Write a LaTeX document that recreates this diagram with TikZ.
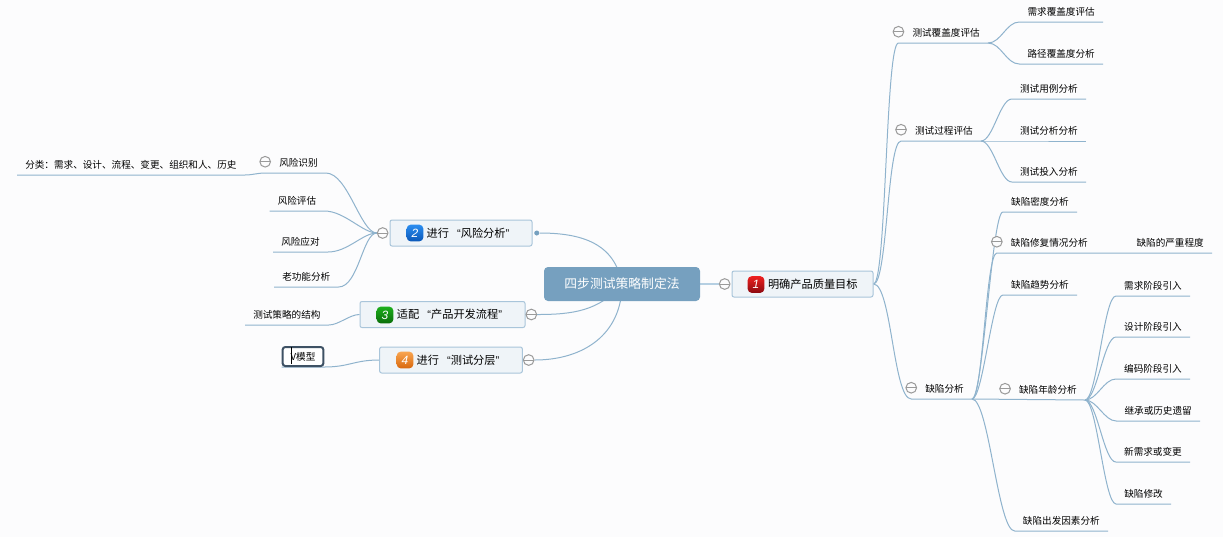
\documentclass[tikz,border=0pt]{standalone}
\usepackage{fontspec}
\setmainfont{Noto Sans CJK SC}
\newfontfamily\latfont{Liberation Sans}
\usetikzlibrary{positioning,backgrounds}
\definecolor{pagebg}{HTML}{FCFCFD}
\definecolor{rootblue}{HTML}{76A0BF}
\definecolor{linkblue}{HTML}{8FB3CD}
\definecolor{stemblue}{HTML}{B5CFE2}
\definecolor{boxfill}{HTML}{EFF4F8}
\definecolor{boxline}{HTML}{A9C5DA}
\definecolor{foldgray}{HTML}{9A9A9A}
\definecolor{picked}{HTML}{3E5164}
\definecolor{b1top}{HTML}{EE2020}\definecolor{b1low}{HTML}{8C0A10}
\definecolor{b2top}{HTML}{2B8DF0}\definecolor{b2low}{HTML}{0A58B8}
\definecolor{b3top}{HTML}{1CAE1C}\definecolor{b3low}{HTML}{0A6E0A}
\definecolor{b4top}{HTML}{F9A550}\definecolor{b4low}{HTML}{D8680E}
\tikzset{
rootbox/.style={fill=rootblue, text=white, rounded corners=3pt, minimum width=117pt, minimum height=25.5pt, inner sep=0pt, font=\fontsize{9.6pt}{11pt}\selectfont},
topic/.style={draw=boxline, fill=boxfill, line width=.75pt, rounded corners=1.5pt, minimum height=19.5pt, inner sep=0pt, font=\fontsize{8.4pt}{10pt}\selectfont, execute at begin node={\hspace*{10.5pt}}},
badge/.style={rounded corners=3pt, minimum size=12.5pt, inner sep=0pt, text=white, font=\latfont\itshape\fontsize{9pt}{10pt}\selectfont},
leaf/.style={inner xsep=6pt, inner ysep=0pt, minimum height=16.5pt, text height=8.4pt, text depth=1.4pt, font=\fontsize{7.2pt}{9pt}\selectfont},
fold/.style={circle, draw=foldgray, fill=pagebg, line width=.75pt, minimum size=8pt, inner sep=0pt, path picture={\draw[foldgray, line width=.75pt] (path picture bounding box.west) -- (path picture bounding box.east);}},
branch/.style={draw=linkblue, line width=.75pt},
stem/.style={draw=stemblue, line width=1.5pt},
sway/.style={out control={+(#1,0)}, in control={+(-#1,0)}}
}
\begin{document}
\begin{tikzpicture}[x=.75pt, y=-.75pt]
\useasboundingbox (0,0) rectangle (1223,537);
\node[rootbox] (root) at (622,284) {四步测试策略制定法};

\node[topic, minimum width=105.75pt] (m1) at (802.5,284) {\hspace*{5pt}明确产品质量目标};
\node[topic, minimum width=106.5pt] (m2) at (461,233) {进行\hspace{6pt}{\latfont “}风险分析{\latfont ”}};
\node[topic, minimum width=123.75pt] (m3) at (442.5,314.5) {适配\hspace{6pt}{\latfont “}产品开发流程{\latfont ”}};
\node[topic, minimum width=107pt] (m4) at (451,360) {进行\hspace{6pt}{\latfont “}测试分层{\latfont ”}};

\node[badge, top color=b1top, bottom color=b1low] (b1) at (756,284.5) {1};
\node[badge, top color=b2top, bottom color=b2low] (b2) at (415,233) {2};
\node[badge, top color=b3top, bottom color=b3low] (b3) at (385,315) {3};
\node[badge, top color=b4top, bottom color=b4low] (b4) at (405,360) {4};

\node[fold, left=.75pt of m1] (c1) {};
\node[fold, left=.75pt of m2] (c2) {};
\node[fold, right=0pt of m3] (c3) {};
\node[fold, right=0pt of m4] (c4) {};
\node[circle, fill=rootblue, minimum size=3.75pt, inner sep=0pt, right=1.1pt of m2] (dot2) {};

% right side
\node[leaf, anchor=south east] (tg1) at (988,43) {测试覆盖度评估};
\node[leaf, anchor=south east] (tg2) at (981,141) {测试过程评估};
\node[leaf, anchor=south east] (tg3) at (972,399) {缺陷分析};
\node[fold, left=0pt of tg1] (tc1) {};
\node[fold, left=0pt of tg2] (tc2) {};
\node[fold, left=0pt of tg3] (tc3) {};

\node[leaf, anchor=south east] (fg1) at (1103,22) {需求覆盖度评估};
\node[leaf, anchor=south east] (fg2) at (1103,64) {路径覆盖度分析};
\node[leaf, anchor=south east] (pg1) at (1086,99) {测试用例分析};
\node[leaf, anchor=south east] (pg2) at (1086,141) {测试分析分析};
\node[leaf, anchor=south east] (pg3) at (1086,182) {测试投入分析};

\node[leaf, anchor=south east] (df1) at (1077,212) {缺陷密度分析};
\node[leaf, anchor=south east] (df2) at (1096,253) {缺陷修复情况分析};
\node[leaf, anchor=south east] (df3) at (1077,295) {缺陷趋势分析};
\node[leaf, anchor=south east] (df4) at (1085,400) {缺陷年龄分析};
\node[leaf, anchor=south east] (df5) at (1108,531) {缺陷出发因素分析};
\node[fold, left=0pt of df2] (dc2) {};
\node[fold, left=0pt of df4] (dc4) {};
\node[leaf, anchor=south east] (sv1) at (1212,253) {缺陷的严重程度};

\node[leaf, anchor=south east] (ag1) at (1190,296) {需求阶段引入};
\node[leaf, anchor=south east] (ag2) at (1190,337) {设计阶段引入};
\node[leaf, anchor=south east] (ag3) at (1190,379) {编码阶段引入};
\node[leaf, anchor=south east] (ag4) at (1200,421) {继承或历史遗留};
\node[leaf, anchor=south east] (ag5) at (1190,462) {新需求或变更};
\node[leaf, anchor=south east] (ag6) at (1171,504) {缺陷修改};

% left side
\node[leaf, anchor=south west] (rk1) at (271,173) {风险识别};
\node[leaf, anchor=south west] (rk2) at (269.5,211) {风险评估};
\node[leaf, anchor=south west] (rk3) at (273,252) {风险应对};
\node[leaf, anchor=south west] (rk4) at (274,287) {老功能分析};
\node[fold, left=0pt of rk1] (rc1) {};
\node[leaf, anchor=south west] (cl1) at (17,175) {分类：需求、设计、流程、变更、组织和人、历史};
\node[leaf, anchor=south west] (st1) at (245,325) {测试策略的结构};
\node[leaf, anchor=south, draw=picked, fill=white, line width=1.5pt, rounded corners=2pt, minimum width=30pt, minimum height=14.25pt, text height=8pt] (vm) at (303,367) {V模型};
\draw[black, line width=.6pt] (vm.north west) ++(10,1) -- ++(0,17);

\begin{scope}[on background layer]
\fill[pagebg] (0,0) rectangle (1223,537);
\draw[stem] (root) -- (c1);
\draw[branch] (dot2) to[out=0,in=100,looseness=1.1] (root.center);
\draw[branch] (c3) to[out=0,in=230] (root.center);
\draw[branch] (c4) to[out=0,in=270,looseness=1.1] (root.center);

\draw[branch] (m1.east) to[sway=13] (tc1 |- tg1.south) -- (tg1.south east);
\draw[branch] (m1.east) to[sway=14] (tc2 |- tg2.south) -- (tg2.south east);
\draw[branch] (m1.east) to[sway=18] (tc3 |- tg3.south) -- (tg3.south east);

\draw[branch] (tg1.south east) to[sway=13] (fg1.south west) -- (fg1.south east);
\draw[branch] (tg1.south east) to[sway=13] (fg2.south west) -- (fg2.south east);
\draw[branch] (tg2.south east) to[sway=12] (pg1.south west) -- (pg1.south east);
\draw[branch] (tg2.south east) -- (pg2.south west) -- (pg2.south east);
\draw[branch] (tg2.south east) to[sway=12] (pg3.south west) -- (pg3.south east);

\draw[branch] (tg3.south east) to[sway=11] (df1.south west) -- (df1.south east);
\draw[branch] (tg3.south east) to[sway=11] (dc2 |- df2.south) -- (df2.south east) -- (sv1.south east);
\draw[branch] (tg3.south east) to[sway=11] (df3.south west) -- (df3.south east);
\draw[branch] (tg3.south east) -- (df4.south east);
\draw[branch] (tg3.south east) to[sway=17] (df5.south west) -- (df5.south east);

\draw[branch] (df4.south east) to[sway=12] (ag1.south west) -- (ag1.south east);
\draw[branch] (df4.south east) to[sway=12] (ag2.south west) -- (ag2.south east);
\draw[branch] (df4.south east) to[sway=12] (ag3.south west) -- (ag3.south east);
\draw[branch] (df4.south east) to[sway=12] (ag4.south west) -- (ag4.south east);
\draw[branch] (df4.south east) to[sway=12] (ag5.south west) -- (ag5.south east);
\draw[branch] (df4.south east) to[sway=12] (ag6.south west) -- (ag6.south east);

\draw[branch] (c2) to[sway=-22] (rk1.south east) -- (rc1 |- rk1.south) to[sway=-8] (cl1.south east) -- (cl1.south west);
\draw[branch] (c2) to[sway=-20] (rk2.south east) -- (rk2.south west);
\draw[branch] (c2) to[sway=-20] (rk3.south east) -- (rk3.south west);
\draw[branch] (c2) to[sway=-20] (rk4.south east) -- (rk4.south west);
\draw[branch] (m3.west) to[sway=-10] (st1.south east) -- (st1.south west);
\draw[branch] (m4.west) to[sway=-25] (vm.south east) -- (vm.south west);
\end{scope}
\end{tikzpicture}
\end{document}
